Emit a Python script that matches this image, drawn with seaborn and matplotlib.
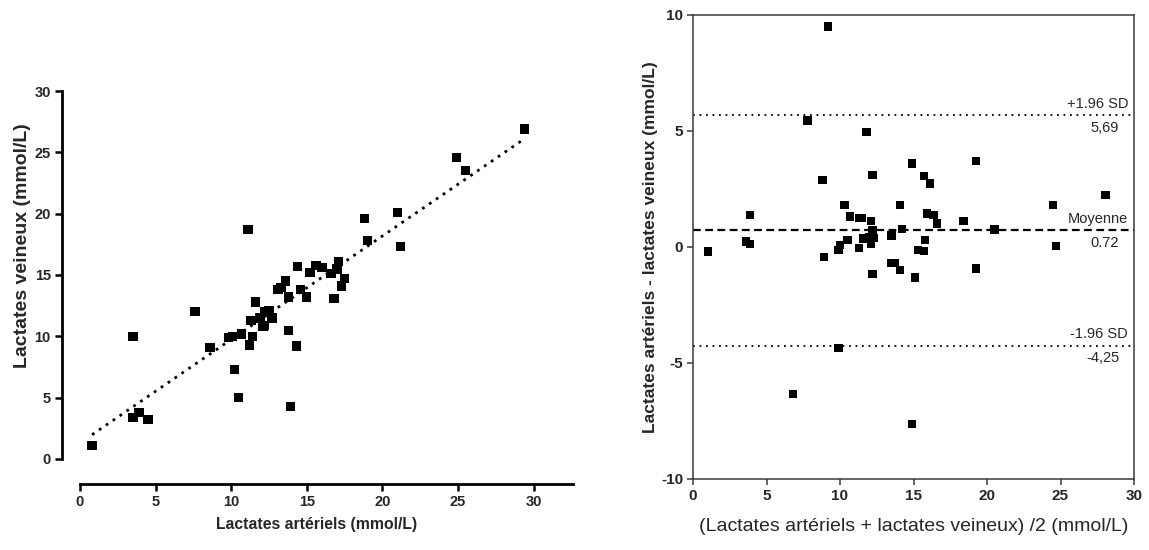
import matplotlib
matplotlib.use("Agg")
import matplotlib.pyplot as plt
import seaborn as sns
import pandas as pd

# Arterial vs venous lactate (mmol/L)
lact_art = [0.8, 3.5, 3.5, 3.9, 4.5, 7.6, 8.6, 9.8, 10.1, 10.2, 10.5, 10.7, 11.1,
            11.2, 11.3, 11.4, 11.6, 11.9, 12.1, 12.2, 12.2, 12.5, 12.7, 13.1, 13.3,
            13.6, 13.8, 13.8, 13.9, 14.3, 14.4, 14.6, 15.0, 15.2, 15.6, 16.0, 16.6,
            16.8, 17.0, 17.1, 17.3, 17.5, 18.8, 19.0, 21.0, 21.2, 24.9, 25.5, 29.4]
lact_ven = [1.1, 10.0, 3.4, 3.8, 3.2, 12.0, 9.1, 9.9, 10.0, 7.3, 5.0, 10.2, 18.7,
            9.3, 11.3, 10.0, 12.8, 11.5, 10.8, 10.9, 12.0, 12.1, 11.5, 13.8, 14.0,
            14.5, 13.2, 10.5, 4.3, 9.2, 15.7, 13.8, 13.2, 15.2, 15.8, 15.6, 15.1,
            13.1, 15.5, 16.1, 14.1, 14.7, 19.6, 17.8, 20.1, 17.3, 24.6, 23.5, 26.9]

# Bland-Altman: mean of both measures vs difference
ba_mean = [1.0, 3.6, 3.9, 3.9, 6.8, 7.8, 8.8, 8.9, 9.2, 9.9, 9.9, 10.0, 10.3, 10.5,
           10.7, 11.3, 11.3, 11.5, 11.6, 11.8, 12.0, 12.1, 12.1, 12.2, 12.2, 12.3,
           12.2, 13.5, 13.45, 13.7, 14.1, 14.1, 14.2, 14.9, 14.9, 15.1, 15.3, 15.7,
           15.7, 15.8, 15.9, 16.1, 16.35, 16.6, 18.4, 19.25, 19.25, 20.5, 24.5, 24.7,
           28.05]
ba_diff = [-0.2, 0.23, 0.13, 1.39, -6.35, 5.45, 2.9, -0.42, 9.5, -4.35, -0.13, 0.09,
           1.81, 0.30, 1.32, -0.03, 1.26, 1.26, 0.36, 4.95, 0.42, 1.13, 0.12, 3.1,
           0.73, 0.39, -1.16, 0.50, -0.68, -0.68, -0.99, 1.82, 0.79, 3.6, -7.62,
           -1.31, -0.13, -0.16, 3.06, 0.30, 1.45, 2.74, 1.39, 1.02, 1.13, 3.7, -0.93,
           0.76, 1.80, 0.04, 2.25]

bias = 0.72
loa_upper = 5.69
loa_lower = -4.25
limit_labels = [("+1.96 SD", "5,69", loa_upper),
                ("Moyenne", "0.72", bias),
                ("-1.96 SD", "-4,25", loa_lower)]

sns.set_theme(style="ticks")
plt.rcParams["font.family"] = ["Liberation Sans", "DejaVu Sans"]
plt.rcParams["axes.unicode_minus"] = False

fig = plt.figure(figsize=(11.49, 5.5), dpi=100)
W, H = 1149, 550
ax1 = fig.add_axes([80 / W, (H - 459) / H, (573 - 80) / W, (459 - 91) / H])
ax2 = fig.add_axes([693 / W, (H - 479) / H, (1134 - 693) / W, (479 - 15) / H])

# ---- Left: correlation plot ----
df1 = pd.DataFrame({"art": lact_art, "ven": lact_ven})
sns.scatterplot(data=df1, x="art", y="ven", marker="s", s=45, color="black",
                edgecolor="none", ax=ax1, zorder=3)
sns.regplot(data=df1, x="art", y="ven", scatter=False, ci=None, ax=ax1,
            line_kws=dict(color="black", lw=2.0, linestyle=(0, (1, 2)),
                          dash_capstyle="butt"))
ax1.set_xlim(0, 32.6)
ax1.set_ylim(0, 30)
ax1.set_xticks(range(0, 31, 5))
ax1.set_yticks(range(0, 31, 5))
sns.despine(ax=ax1, offset={"left": 13, "bottom": 18})
ax1.spines["left"].set_bounds(0, 30)
for sp in ("left", "bottom"):
    ax1.spines[sp].set_linewidth(2)
    ax1.spines[sp].set_color("black")
ax1.tick_params(axis="both", length=5, width=1.8, color="black",
                labelsize=10.5, pad=3)
for lab in ax1.get_xticklabels() + ax1.get_yticklabels():
    lab.set_fontweight("bold")
ax1.set_xlabel("Lactates artériels (mmol/L)", fontsize=11.3, fontweight="bold")
ax1.set_ylabel("Lactates veineux (mmol/L)", fontsize=14, fontweight="bold")
ax1.xaxis.set_label_coords(0.48, -0.158)
ax1.yaxis.set_label_coords(-0.10, 0.58)

# ---- Right: Bland-Altman plot ----
df2 = pd.DataFrame({"moy": ba_mean, "diff": ba_diff})
sns.scatterplot(data=df2, x="moy", y="diff", marker="s", s=36, color="black",
                edgecolor="none", ax=ax2, zorder=3)
ax2.axhline(bias, color="black", lw=1.6, linestyle=(0, (3.5, 2)))
ax2.axhline(loa_upper, color="black", lw=1.3, linestyle=(0, (1, 2.6)))
ax2.axhline(loa_lower, color="black", lw=1.3, linestyle=(0, (1, 2.6)))
ax2.set_xlim(0, 30)
ax2.set_ylim(-10, 10)
ax2.set_xticks(range(0, 31, 5))
ax2.set_yticks(range(-10, 11, 5))
for sp in ax2.spines.values():
    sp.set_linewidth(1.1)
    sp.set_color("#3a3a3a")
ax2.tick_params(axis="both", length=4, width=1.1, color="#3a3a3a",
                labelsize=11, pad=3)
for lab in ax2.get_xticklabels() + ax2.get_yticklabels():
    lab.set_fontweight("bold")
ax2.set_xlabel("(Lactates artériels + lactates veineux) /2 (mmol/L)",
               fontsize=14, labelpad=11)
ax2.set_ylabel("Lactates artériels - lactates veineux (mmol/L)", fontsize=12.5,
               fontweight="bold", labelpad=2)

for above, below, val in limit_labels:
    ax2.annotate(above, xy=(29.6, val), xytext=(0, 3), textcoords="offset points",
                 ha="right", va="bottom", fontsize=10.5)
    ax2.annotate(below, xy=(29.0, val), xytext=(0, -4), textcoords="offset points",
                 ha="right", va="top", fontsize=10.5)

fig.savefig("out.png", dpi=100)
